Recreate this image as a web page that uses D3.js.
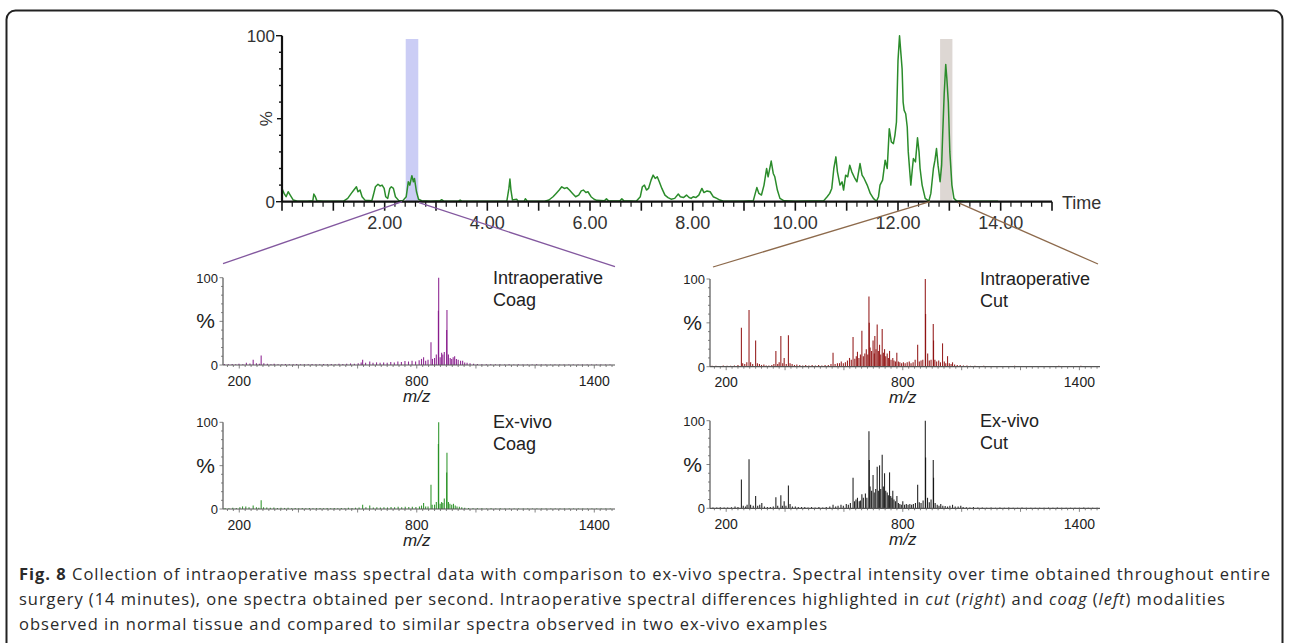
<!DOCTYPE html>
<html><head><meta charset="utf-8">
<script src="https://cdn.jsdelivr.net/npm/d3@7"></script>
<style>html,body{margin:0;padding:0;background:#fff;}svg{display:block;}</style>
</head><body>
<script>
// ---------- DATA ----------
// Total ion chromatogram: [time (min), relative intensity %]
const ticTime = [0,0.04,0.08,0.12,0.16,0.22,0.3,0.5,0.6,0.62,0.65,0.68,0.8,1.0,1.2,1.28,1.35,1.40,1.45,1.48,1.52,1.56,1.62,1.75,1.78,1.82,1.87,1.91,1.95,1.99,2.02,2.06,2.10,2.13,2.17,2.21,2.28,2.35,2.42,2.46,2.49,2.53,2.56,2.58,2.62,2.66,2.72,2.9,3.08,3.11,3.15,3.44,3.47,3.5,4.0,4.38,4.42,4.44,4.46,4.49,4.57,4.6,4.72,4.74,4.78,5.1,5.2,5.28,5.34,5.40,5.45,5.5,5.55,5.6,5.66,5.72,5.78,5.83,5.87,5.92,5.96,6.02,6.08,6.13,6.28,6.32,6.36,6.58,6.62,6.66,6.9,6.98,7.02,7.06,7.10,7.14,7.19,7.23,7.27,7.31,7.35,7.40,7.46,7.52,7.58,7.65,7.72,7.76,7.82,7.88,7.93,7.97,8.01,8.06,8.12,8.18,8.22,8.28,8.34,8.40,8.47,8.53,8.6,9.0,9.18,9.25,9.29,9.34,9.39,9.44,9.47,9.53,9.57,9.60,9.65,9.70,9.78,10.0,10.55,10.62,10.67,10.71,10.75,10.79,10.82,10.87,10.91,10.94,10.98,11.02,11.06,11.10,11.16,11.20,11.26,11.30,11.34,11.40,11.46,11.52,11.58,11.62,11.65,11.70,11.75,11.79,11.83,11.87,11.91,11.94,11.97,12.00,12.03,12.06,12.08,12.10,12.12,12.15,12.18,12.20,12.23,12.25,12.28,12.30,12.34,12.38,12.41,12.43,12.47,12.53,12.60,12.64,12.69,12.72,12.75,12.78,12.82,12.85,12.87,12.90,12.93,12.95,12.98,13.01,13.05,13.09,13.14,13.3,13.95];
const ticValue = [8,5,3,6,4,1,0.3,0.2,0.5,4.6,3,0.5,0.2,0.2,0.3,2,5,7,9,6,7,3,0.8,0.6,4,9,10.5,9.5,10,8,3,2,8,9,8,3,0.5,0.5,3,12,10,15.7,12,14,6,1.5,0.6,0.3,0.5,1.2,0.4,0.3,1,0.3,0.2,0.3,8,13.7,7,1,1.5,0.3,0.4,1.8,0.3,0.2,1,3,5,7,9,8,8.5,7,5,3,4,6.5,7,5.5,6,3,1.5,0.8,0.5,1.8,0.5,0.4,1.8,0.5,0.3,3,9,10,7,8,13,16,14,15,12,8,4,2.5,1.5,2,4.6,3,2.5,4,2.5,2,3,2.5,4,8,5.5,6.5,6,3,2,1,0.3,0.2,0.5,8.5,5,4,10,20,15,24.5,17,15,7,2,0.5,0.3,0.5,3,5,8,20,27,18,10,12,7,16,15,22,18,14,12,23,16,14,10,5,2,0.3,3,10,13,25,20,44,36,35,40,48,85,100,88,80,60,55,53,45,30,18,10,20,26,24,38.5,30,20,10,2,0.3,5,20,25,32,22,12,22,40,65,82.7,75,60,30,10,2,0.5,0.3,0.3];
const timeTickLabels = [2,4,6,8,10,12,14];
const coagWindow = [2.41, 2.655];
const cutWindow = [12.82, 13.06];

// Mass spectra: [m/z, relative intensity %]
const intraCoag = [[150,1],[163,0.8],[176,1.2],[188,0.8],[199,1.5],[212,1],[224,2.5],[236,1.8],[247,6],[258,2],[268,1.5],[274,11],[283,2],[295,1.5],[307,1],[318,1.5],[331,1],[344,0.8],[356,1.2],[369,1],[382,0.8],[394,1.2],[407,0.8],[420,1],[433,0.8],[446,1.2],[459,1],[472,0.8],[485,1.2],[498,1],[511,1.2],[524,1],[537,1.5],[550,1.2],[563,1.5],[576,1.8],[589,1.5],[602,2],[612,3],[617,6],[627,2.5],[641,4],[652,2.5],[664,3],[676,2.5],[688,3],[700,2.5],[712,3.5],[724,3],[736,4],[748,3.5],[760,4.5],[772,4],[784,5],[796,4],[808,5.5],[816,7],[823,9],[830,5],[838,6],[848,26],[853,7],[860,8],[866,12],[873,62],[874,100],[879,9],[884,14],[888,12],[893,15],[901,40],[902,63],[907,12],[913,8],[918,7],[923,9],[928,10],[934,7],[940,6],[948,5],[955,5],[962,3],[970,2.5],[980,2],[992,1.5],[1005,1.2],[1020,1],[1035,0.8],[1050,1],[1066,0.7],[1081,0.9],[1097,0.6],[1112,0.8],[1128,0.6],[1143,0.8],[1159,0.5],[1174,0.7],[1190,0.6],[1205,0.8],[1221,0.5],[1236,0.7],[1252,0.5],[1267,0.6],[1283,0.5],[1298,0.7],[1314,0.5],[1329,0.6],[1345,0.5],[1360,0.6],[1376,0.5],[1391,0.6],[1407,0.5],[1422,0.6],[1438,0.5],[1453,0.6]];
const exvivoCoag = [[152,1.2],[165,1],[178,1.5],[190,1.2],[202,2],[211,3],[222,3],[233,2],[247,4],[258,2],[266,1.5],[274,10],[282,2],[293,1.8],[305,1.5],[317,1.8],[329,1.2],[341,1.5],[353,1.2],[365,1.5],[377,1],[389,1.2],[401,1],[413,1.2],[425,1],[437,1.2],[449,1],[461,1],[473,1.2],[485,1],[497,1.2],[509,1],[521,1.2],[533,1],[545,1.2],[557,1],[569,1.5],[581,1.2],[593,1.5],[605,1.8],[617,5],[628,2],[641,4],[653,1.8],[665,2],[677,1.8],[689,2],[701,1.8],[713,2.2],[725,2],[737,2.5],[749,2],[761,2.5],[773,2.2],[785,2.5],[797,2.2],[809,3],[816,4],[823,7],[830,3],[838,3],[848,28],[852,5],[860,5],[866,8],[873,75],[874,100],[879,6],[884,8],[888,7],[893,12],[901,42],[902,65],[907,8],[912,6],[918,5],[924,6],[930,4],[936,3],[944,2.5],[952,2],[962,1.5],[975,1.2],[990,1],[1005,0.8],[1020,1],[1036,0.7],[1051,0.9],[1067,0.6],[1082,0.8],[1098,0.6],[1113,0.7],[1129,0.5],[1144,0.7],[1160,0.5],[1175,0.6],[1191,0.5],[1206,0.7],[1222,0.5],[1237,0.6],[1253,0.5],[1268,0.6],[1284,0.5],[1299,0.6],[1315,0.5],[1330,0.6],[1346,0.5],[1361,0.6],[1377,0.5],[1392,0.6],[1408,0.5],[1423,0.6],[1439,0.5],[1454,0.6]];
const intraCut = [[152,1],[165,1.2],[178,0.8],[190,1.5],[203,1],[215,1.2],[228,1.5],[240,2],[251.7,44.5],[256,4],[263,3],[270,5],[277.6,64.6],[283,5],[290,3],[300,30],[306,4],[313,3],[320,2],[328,2.5],[336,1.5],[345,1.5],[355,2],[362,3],[368.8,18],[375,3],[380,5],[385.7,35],[392,4],[397,10],[404,3],[411.4,36],[417,4],[424,3],[432,2],[440,2.5],[450,2],[460,1.5],[470,2],[481,1.5],[492,2],[503,1.5],[514,2],[525,1.5],[536,2],[547,2],[556,3],[563,16],[570,3],[578,4],[585,4],[591,6],[598,4],[605,5],[612,7],[619,10],[625,8],[631,34],[637,9],[642,12],[646,17],[651,10],[656,14],[661,41],[666,12],[671,15],[676,20],[681,14],[685,80],[686,50],[689,22],[694,18],[699,30],[703,15],[705,35],[709,20],[713,48],[717,18],[721,25],[725,14],[730,43],[734,16],[738,20],[742,12],[747,15],[751,10],[755,18],[760,8],[766,10],[770,7],[775,6],[779.7,16],[785,6],[790,5],[796,4],[802,5],[808,4],[815,5],[822,6],[828,4],[835,5],[842,8],[850.5,25],[856,6],[862,7],[868,8],[876.5,100],[877.5,60],[884.5,15],[890,7],[896,8],[903.5,48.7],[904.5,30],[909,8],[915,6],[922,7],[928,5],[935,26.6],[941,6],[946,4],[952,12],[958,4],[964,3],[969,5],[976,2.5],[985,2],[995,2],[1006,1.5],[1018,1.5],[1030,1],[1045,1.2],[1060,0.8],[1075,1],[1090,0.7],[1105,0.9],[1120,0.6],[1135,0.8],[1150,0.6],[1165,0.7],[1180,1],[1195,0.6],[1210,0.8],[1225,0.6],[1240,0.7],[1255,0.5],[1270,0.7],[1285,0.6],[1300,0.8],[1315,0.6],[1330,1],[1345,0.6],[1360,0.7],[1375,0.5],[1390,0.7],[1405,1],[1420,0.6],[1435,0.7],[1450,0.5],[1462,0.6]];
const exvivoCut = [[155,1],[168,0.8],[180,1.2],[193,1],[205,1],[218,1.2],[230,2],[240,1.5],[251.7,33],[258,3],[266,2],[271,4],[277.6,56],[283,4],[292,3],[300,14],[307,3],[314,4],[321,6],[330,2],[340,1.5],[350,1.5],[360,2],[368.8,12.5],[375,3],[385.7,15],[391,3],[397,8],[403,3],[411.4,26],[417,5],[425,2],[435,2],[445,1.5],[456,1.5],[467,1.5],[478,1],[490,1.5],[502,1],[515,1.5],[528,1],[540,1.5],[552,2],[563,4],[572,2],[580,3],[590,4],[598,3],[608,5],[615,4],[622,6],[631,35],[636,8],[641,10],[646,12],[652,8],[656,9],[661,16],[666,12],[673,17],[678,12],[685,88],[686,55],[689,25],[694,20],[699,38],[703,18],[708,22],[713,47.5],[717,20],[721,49],[725,22],[730,61],[734,25],[738,40],[742,20],[747,18],[751,15],[755,41],[759,14],[763,12],[766,20],[770,10],[775,8],[780,14],[785,6],[790,5],[795,4],[800,8],[806,4],[812,5],[818,4],[824,5],[830,4],[836,5],[843,6],[850.5,27],[856,7],[862,6],[869,9],[876.5,100],[877.5,58],[884,12],[890,7],[896,10],[903.5,55],[904.5,35],[910,6],[917,4],[923,3],[929,5],[936,3],[944,2.5],[952,2],[960,3],[969,4],[978,2],[988,2],[997,3],[1005,1.5],[1016,1.2],[1028,1],[1040,1.5],[1055,0.8],[1070,1],[1085,0.7],[1100,0.9],[1115,0.6],[1130,0.8],[1145,0.6],[1160,1],[1175,0.7],[1190,0.6],[1205,0.8],[1220,0.6],[1235,0.7],[1250,0.5],[1265,0.7],[1280,0.6],[1295,0.8],[1310,0.6],[1325,1],[1340,0.7],[1355,0.6],[1370,0.5],[1385,0.7],[1400,0.6],[1415,0.8],[1430,0.6],[1445,0.5],[1460,0.6]];
const mzTickLabels = [200, 800, 1400];

const captionLines = [
  [["b","Fig. 8"],["n"," Collection of intraoperative mass spectral data with comparison to ex-vivo spectra. Spectral intensity over time obtained throughout entire"]],
  [["n","surgery (14 minutes), one spectra obtained per second. Intraoperative spectral differences highlighted in "],["i","cut"],["n"," ("],["i","right"],["n",") and "],["i","coag"],["n"," ("],["i","left"],["n",") modalities"]],
  [["n","observed in normal tissue and compared to similar spectra observed in two ex-vivo examples"]]
];

// ---------- DRAW ----------
const W = 1289, H = 643;
const svg = d3.select("body").append("svg").attr("width", W).attr("height", H)
  .style("font-family", "'Liberation Sans', Arial, sans-serif");

// frame
svg.append("rect").attr("x", 6.5).attr("y", 10.5).attr("width", 1276).attr("height", 700)
  .attr("rx", 9).attr("fill", "none").attr("stroke", "#222").attr("stroke-width", 2);

// ---- top chromatogram ----
const tx = d3.scaleLinear().domain([0, 15]).range([282, 1052]);
const ty = d3.scaleLinear().domain([0, 100]).range([201.7, 35.7]);
const topG = svg.append("g");

topG.append("rect").attr("x", tx(coagWindow[0])).attr("width", tx(coagWindow[1]) - tx(coagWindow[0]))
  .attr("y", ty(98)).attr("height", ty(0) - ty(98)).attr("fill", "#cbcdf5");
topG.append("rect").attr("x", tx(cutWindow[0])).attr("width", tx(cutWindow[1]) - tx(cutWindow[0]))
  .attr("y", ty(98)).attr("height", ty(0) - ty(98)).attr("fill", "#ddd7d3");

const ticData = ticTime.map((t, i) => [t, ticValue[i]]);
topG.append("path").datum(ticData)
  .attr("d", d3.line().x(d => tx(d[0])).y(d => ty(d[1])))
  .attr("fill", "none").attr("stroke", "#2b8c2b").attr("stroke-width", 1.5).attr("stroke-linejoin", "round");

// axes
topG.append("line").attr("x1", tx(0)).attr("x2", tx(15)).attr("y1", ty(0)).attr("y2", ty(0))
  .attr("stroke", "#111").attr("stroke-width", 2.2);
topG.append("line").attr("x1", tx(0)).attr("x2", tx(0)).attr("y1", ty(0)).attr("y2", ty(100))
  .attr("stroke", "#111").attr("stroke-width", 2.2);
d3.range(0, 15.001, 0.2).forEach(v => {
  const major = Math.abs(v - Math.round(v)) < 1e-6;
  topG.append("line").attr("x1", tx(v)).attr("x2", tx(v)).attr("y1", ty(0)).attr("y2", ty(0) + (major ? 9 : 5))
    .attr("stroke", "#111").attr("stroke-width", major ? 1.6 : 1.2);
});
d3.range(0, 100.001, 10).forEach(v => {
  const len = (v === 0 || v === 100) ? 6 : (v === 50 ? 5 : 3);
  topG.append("line").attr("x1", tx(0) - len).attr("x2", tx(0)).attr("y1", ty(v)).attr("y2", ty(v))
    .attr("stroke", "#111").attr("stroke-width", 1.4);
});
timeTickLabels.forEach(v => {
  topG.append("text").attr("x", tx(v)).attr("y", ty(0) + 27).attr("text-anchor", "middle")
    .attr("font-size", 18).attr("fill", "#333").text(v.toFixed(2));
});
[0, 100].forEach(v => {
  topG.append("text").attr("x", tx(0) - 7).attr("y", ty(v) + 6).attr("text-anchor", "end")
    .attr("font-size", 17).attr("fill", "#333").text(v);
});
topG.append("text").attr("transform", `translate(${tx(0) - 10},${ty(50)}) rotate(-90)`)
  .attr("text-anchor", "middle").attr("font-size", 17).attr("fill", "#333").text("%");
topG.append("text").attr("x", tx(15) + 10).attr("y", ty(0) + 7).attr("font-size", 18).attr("fill", "#333").text("Time");

// ---- spectra ----
const mzDomain = [145, 1470];
const panels = [
  {x0: 223, x1: 615, yz: 365,   yh: 277.7, data: intraCoag,  color: "#86168a", t1: "Intraoperative", t2: "Coag"},
  {x0: 223, x1: 615, yz: 509,   yh: 422.3, data: exvivoCoag, color: "#23901f", t1: "Ex-vivo", t2: "Coag"},
  {x0: 710, x1: 1100, yz: 366.7, yh: 279,   data: intraCut,   color: "#8e0d0d", t1: "Intraoperative", t2: "Cut"},
  {x0: 710, x1: 1100, yz: 508.3, yh: 420.7, data: exvivoCut,  color: "#111111", t1: "Ex-vivo", t2: "Cut"}
];
panels.forEach(p => {
  const g = svg.append("g");
  const x = d3.scaleLinear().domain(mzDomain).range([p.x0, p.x1]);
  const y = d3.scaleLinear().domain([0, 100]).range([p.yz, p.yh]);
  g.selectAll("line.pk").data(p.data).join("line").attr("class", "pk")
    .attr("x1", d => x(d[0])).attr("x2", d => x(d[0]))
    .attr("y1", y(0)).attr("y2", d => y(d[1]))
    .attr("stroke", p.color).attr("stroke-width", 1.1).attr("opacity", 0.9);
  g.append("line").attr("x1", p.x0).attr("x2", p.x1).attr("y1", y(0)).attr("y2", y(0)).attr("stroke", "#555").attr("stroke-width", 1.2);
  g.append("line").attr("x1", p.x0).attr("x2", p.x0).attr("y1", y(0)).attr("y2", y(100)).attr("stroke", "#555").attr("stroke-width", 1.2);
  d3.range(160, 1470, 20).forEach(v => {
    const big = v % 200 === 0;
    g.append("line").attr("x1", x(v)).attr("x2", x(v)).attr("y1", y(0)).attr("y2", y(0) + (big ? 3.5 : 2))
      .attr("stroke", "#666").attr("stroke-width", 0.8);
  });
  d3.range(0, 100.001, 10).forEach(v => {
    const big = v % 50 === 0;
    g.append("line").attr("x1", p.x0 - (big ? 3.5 : 2)).attr("x2", p.x0).attr("y1", y(v)).attr("y2", y(v))
      .attr("stroke", "#666").attr("stroke-width", 0.8);
  });
  mzTickLabels.forEach(v => {
    g.append("text").attr("x", x(v)).attr("y", y(0) + 20.5).attr("text-anchor", "middle")
      .attr("font-size", 14).attr("fill", "#222").text(v);
  });
  [0, 100].forEach(v => {
    g.append("text").attr("x", p.x0 - 5).attr("y", y(v) + 5).attr("text-anchor", "end")
      .attr("font-size", 13).attr("fill", "#222").text(v);
  });
  g.append("text").attr("x", p.x0 - 8).attr("y", y(50) + 7).attr("text-anchor", "end")
    .attr("font-size", 21).attr("fill", "#222").text("%");
  g.append("text").attr("x", x(800)).attr("y", y(0) + 36.5).attr("text-anchor", "middle")
    .attr("font-size", 17).attr("font-style", "italic").attr("fill", "#222").text("m/z");
  g.append("text").attr("x", p.x0 + 270).attr("y", y(100) + 6).attr("font-size", 18).attr("fill", "#222").text(p.t1);
  g.append("text").attr("x", p.x0 + 270).attr("y", y(100) + 28).attr("font-size", 18).attr("fill", "#222").text(p.t2);
});

// connector lines (zoom windows -> spectra)
const conn = svg.append("g").attr("fill", "none").attr("stroke-width", 1.3);
const pL = panels[0], pR = panels[2];
conn.append("line").attr("x1", pL.x0).attr("y1", pL.yh - 14).attr("x2", tx(2.34)).attr("y2", ty(0)).attr("stroke", "#83589f");
conn.append("line").attr("x1", tx(2.67)).attr("y1", ty(0) + 1).attr("x2", pL.x1).attr("y2", pL.yh - 11).attr("stroke", "#83589f");
conn.append("line").attr("x1", pR.x0 + 3).attr("y1", pR.yh - 12).attr("x2", tx(12.62)).attr("y2", ty(0)).attr("stroke", "#8d6a4c");
conn.append("line").attr("x1", tx(13.17)).attr("y1", ty(0) + 1).attr("x2", pR.x1 - 2).attr("y2", pR.yh - 15).attr("stroke", "#8d6a4c");

// caption
const cap = svg.append("g").style("font-family", "'Open Sans', 'Noto Sans', sans-serif").attr("fill", "#2a2a2a");
const capY = [580, 605, 630];
const capLen = [1251, 1206, 808];
captionLines.forEach((line, i) => {
  const t = cap.append("text").attr("x", 19).attr("y", capY[i]).attr("font-size", 16.5)
    .attr("textLength", capLen[i]).attr("lengthAdjust", "spacing");
  line.forEach(([k, s]) => {
    const ts = t.append("tspan").text(s);
    if (k === "b") ts.attr("font-weight", "bold");
    if (k === "i") ts.attr("font-style", "italic");
  });
});
</script>
</body></html>
